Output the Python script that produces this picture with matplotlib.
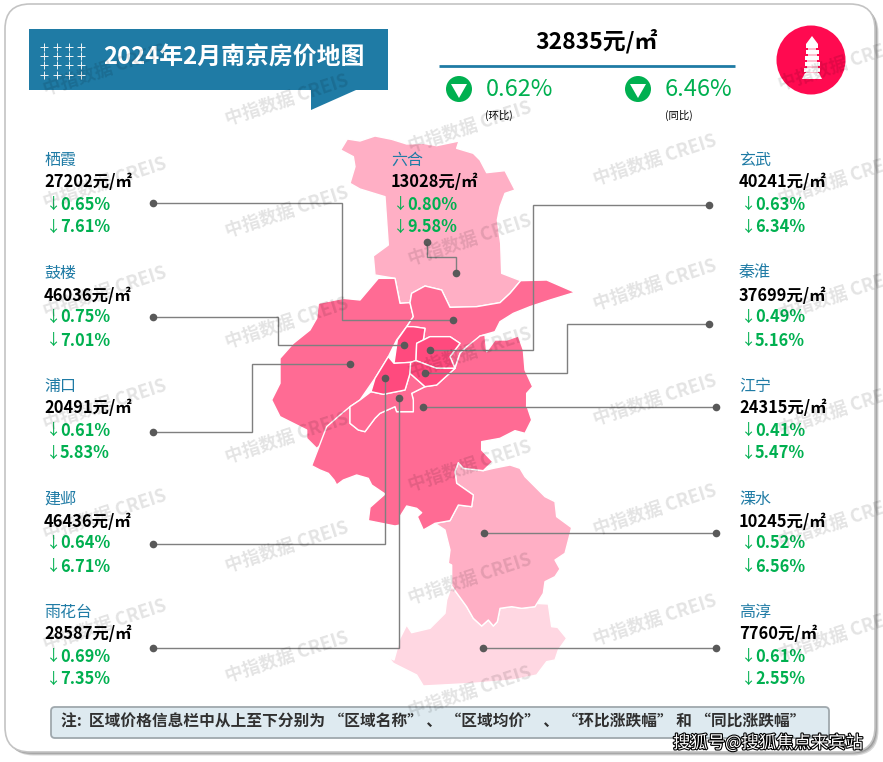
import matplotlib
matplotlib.use("Agg")
import matplotlib.pyplot as plt
from matplotlib.patches import Polygon, Circle, Rectangle, FancyBboxPatch
import matplotlib.patheffects as pe

plt.rcParams['font.family'] = ['Noto Sans CJK SC', 'DejaVu Sans']

W, H = 883, 762
BLUE = '#1F7BA5'; GREEN = '#00B050'
MID = '#FF6B94'; DARK = '#FF4A7E'; LIGHT = '#FFAFC5'; PALE = '#FFD7E2'

# ---- data ----
title = '2024年2月南京房价地图'
city_price = '32835元/㎡'
city_mom = '0.62%'
city_yoy = '6.46%'
note = '注:  区域价格信息栏中从上至下分别为 “区域名称” 、 “区域均价” 、 “环比涨跌幅” 和 “同比涨跌幅”'
credit = '搜狐号@搜狐焦点来宾站'

left_names = ['栖霞', '鼓楼', '浦口', '建邺', '雨花台']
left_prices = [27202, 46036, 20491, 46436, 28587]
left_mom = [0.65, 0.75, 0.61, 0.64, 0.69]
left_yoy = [7.61, 7.01, 5.83, 6.71, 7.35]

right_names = ['玄武', '秦淮', '江宁', '溧水', '高淳']
right_prices = [40241, 37699, 24315, 10245, 7760]
right_mom = [0.63, 0.49, 0.41, 0.52, 0.61]
right_yoy = [6.34, 5.16, 5.47, 6.56, 2.55]

lh_name, lh_price, lh_mom, lh_yoy = '六合', 13028, 0.80, 9.58

# ---- district outlines (px / 3 offsets) ----
def A(pts):  # upper map trace
    return [(260 + x / 3, 130 + y / 3) for x, y in pts]
def B(pts):  # lower map trace
    return [(260 + x / 3, 400 + y / 3) for x, y in pts]

liuhe = A([(242,60),(262,27),(300,33),(345,18),(395,28),(440,42),(490,40),(530,47),(597,33),(590,55),(640,70),
           (660,90),(680,128),(735,122),(765,180),(735,190),(720,230),(712,270),(722,340),(725,430),(782,452),
           (750,490),(720,518),(650,530),(570,532),(545,480),(495,468),(455,490),(450,518),(420,520),(405,445),
           (345,435),(340,378),(385,345),(375,200),(300,177),(270,160),(285,110),(280,80)])
pukou = A([(355,445),(405,445),(420,520),(450,518),(460,560),(440,590),(410,630),(385,680),(345,745),(300,810),
           (270,830),(240,890),(200,930),(170,955),(140,925),(140,900),(60,860),(35,810),(60,760),(60,685),
           (100,640),(150,600),(170,565),(175,520),(250,505),(300,510)])
qixia = A([(450,518),(455,490),(495,468),(545,480),(570,532),(650,530),(720,518),(750,490),(782,452),(860,450),
           (945,487),(870,510),(810,530),(760,550),(720,575),(705,605),(660,618),(640,640),(620,650),(600,670),
           (585,715),(570,680),(600,640),(570,620),(510,620),(470,640),(490,630),(495,595),(460,590),(440,590),(460,560)])
jiangning = A([(705,630),(740,630),(775,618),(790,660),(795,720),(818,770),(800,790),(800,830)]) + \
    B([(800,15),(815,60),(795,100),(765,92),(720,115),(665,125),(665,150),(698,185),(670,212),(610,205),(595,188),
       (585,215),(590,250),(640,285),(635,320),(595,315),(570,362),(525,370),(490,390),(472,350),(485,338),(470,325),
       (440,318),(420,350),(420,375),(405,378),(355,368),(325,362),(330,322),(375,282),(335,255),(325,235),(290,225),
       (250,240),(230,255),(222,240),(205,220),(180,210),(155,197),(200,80),(240,45),(270,20),(270,70),(295,90),
       (315,95),(345,55),(360,40),(405,20),(410,35),(460,35),(460,0)]) + \
    A([(455,790),(495,770),(530,765),(585,715),(600,670),(620,650),(660,618),(675,615),(680,665)])
yuhuatai = A([(333,785),(370,793),(435,780),(450,730),(495,770),(455,790)]) + \
    B([(460,0),(460,35),(410,35),(405,20),(360,40),(345,55),(315,95),(295,90),(270,70),(270,20)]) + A([(300,810)])
gulou = A([(440,590),(460,590),(495,595),(490,630),(470,640),(468,692),(452,697),(402,700),(412,630)])
jianye = A([(402,700),(452,697),(450,730),(435,780),(370,793),(333,785),(345,745),(385,680)])
xuanwu = A([(470,640),(510,620),(570,620),(600,640),(570,680),(585,715),(530,715),(468,692)])
qinhuai = A([(452,697),(468,692),(530,715),(585,715),(530,765),(495,770),(450,730)])
lishui = B([(525,370),(570,362),(595,315),(635,320),(640,285),(590,250),(585,215),(595,188),(610,205),(670,212),
            (700,205),(750,195),(780,205),(795,230),(825,260),(855,290),(885,305),(890,350),(935,383),(915,460),
            (885,480),(900,507),(885,530),(855,545),(850,580),(825,620),(785,625),(755,620),(720,625),(712,665),
            (700,678),(685,660),(665,678),(640,655),(620,620),(575,558),(575,495),(565,490),(570,450),(560,410),(555,390)])
gaochun = B([(575,558),(620,620),(640,655),(665,678),(685,660),(700,678),(712,665),(720,625),(755,620),(785,625),
             (825,620),(825,610),(865,612),(875,680),(893,682),(920,715),(895,750),(885,780),(860,785),(830,825),
             (760,840),(640,850),(490,858),(470,825),(400,790),(385,772),(402,780),(420,715),(440,675),(455,698),
             (510,685),(555,640),(560,600)])

regions = [(gaochun, PALE), (lishui, LIGHT), (liuhe, LIGHT), (pukou, MID), (qixia, MID), (jiangning, MID),
           (yuhuatai, MID), (gulou, DARK), (jianye, DARK), (xuanwu, DARK), (qinhuai, DARK)]

# leader routes: first point is the label end, last point the district end
leaders = {
    '栖霞': [(153,203),(342,203),(342,320),(453,320)],
    '鼓楼': [(153,317),(278,317),(278,345),(404,345)],
    '浦口': [(153,432),(252,432),(252,364),(350,364)],
    '建邺': [(153,544),(385,544),(385,378)],
    '雨花台': [(153,648),(399,648),(399,398)],
    '玄武': [(709,205),(533,205),(533,350),(430,350)],
    '秦淮': [(709,324),(567,324),(567,373),(425,373)],
    '江宁': [(716,407),(423,407)],
    '溧水': [(716,533),(484,533)],
    '高淳': [(716,648),(483,648)],
    '六合': [(427,242),(427,257),(456,257),(456,273)],
}

fig = plt.figure(figsize=(W / 100, H / 100), dpi=100, facecolor='white')
ax = fig.add_axes([0, 0, 1, 1])
ax.set_xlim(0, W); ax.set_ylim(H, 0); ax.axis('off')

# frame with soft shadow
for off, c in [(3.5, '#D8D8D8'), (2.5, '#B8B8B8'), (1.5, '#9A9A9A')]:
    ax.add_patch(FancyBboxPatch((5 + 25 + off, 4 + 25 + off), 870 - 50, 748 - 50,
                                boxstyle='round,pad=25,rounding_size=25', fc=c, ec='none', zorder=0))
ax.add_patch(FancyBboxPatch((5 + 25, 4 + 25), 870 - 50, 748 - 50, boxstyle='round,pad=25,rounding_size=25',
                            fc='white', ec='#C4C4C4', lw=1.2, zorder=0.5))

# banner
ax.add_patch(Rectangle((29, 29), 359, 61, fc=BLUE, ec='none', zorder=1))
ax.add_patch(Polygon([(311, 90), (356, 90), (311, 110)], fc=BLUE, ec='none', zorder=1))
for px in (44, 57, 69, 81):
    for py in (47, 56, 65, 75):
        ax.plot([px], [py], marker='+', ms=5.5, mew=0.7, color='#F0F4F6', zorder=2)
ax.text(234, 58, title, color='white', fontsize=17.2, fontweight='bold', ha='center', va='center', zorder=3)

# city summary
ax.text(597, 41, city_price, color='black', fontsize=16.5, fontweight='bold', ha='center', va='center', zorder=3)
ax.plot([439, 735], [66, 66], color=BLUE, lw=2, zorder=2, solid_capstyle='butt')
for cx, tx, sx, val, sub in [(459, 486, 499, city_mom, '(环比)'), (638, 665, 679, city_yoy, '(同比)')]:
    ax.add_patch(Circle((cx, 89), 13, fc=GREEN, ec='none', zorder=2))
    ax.add_patch(Polygon([(cx - 8, 84), (cx + 8, 84), (cx, 98)], fc='white', ec='none', zorder=3))
    ax.text(tx, 89, val, color=GREEN, fontsize=17, fontweight='medium', ha='left', va='center', zorder=3)
    ax.text(sx, 115, sub, color='black', fontsize=7.5, ha='center', va='center', zorder=3)

# pagoda badge
ax.add_patch(Circle((811, 60), 34.5, fc='#FF0A50', ec='none', zorder=2))
ax.add_patch(Polygon([(812, 36), (806, 44), (818, 44)], fc='white', ec='none', zorder=3))
for top, hw in zip((44, 50, 56, 62, 68), (6, 6.5, 7, 7.5, 8)):
    ax.add_patch(Rectangle((812 - hw, top), 2 * hw, 3.6, fc='white', ec='none', zorder=3))
    ax.add_patch(Rectangle((812 - hw + 2, top + 3.6), 2 * hw - 4, 2.4, fc='#FFC0D0', ec='none', zorder=3))
ax.add_patch(Polygon([(802, 79), (822, 79), (819, 73), (805, 73)], fc='white', ec='none', zorder=3))

# map
for pts, col in regions:
    ax.add_patch(Polygon(pts, closed=True, fc=col, ec='white', lw=1.0, joinstyle='round', zorder=4))

# leaders and dots
for name, route in leaders.items():
    xs, ys = zip(*route)
    ax.plot(xs, ys, color='#7F7F7F', lw=1.0, zorder=5, solid_joinstyle='miter')
    ax.plot([xs[0], xs[-1]], [ys[0], ys[-1]], ls='none', marker='o', ms=5.5, color='#595959', mec='none', zorder=6)

# labels
def label(x, y, name, price, mom, yoy):
    ax.text(x, y, name, color=BLUE, fontsize=11.5, ha='left', va='center', zorder=7)
    ax.text(x, y + 22.5, f'{price}元/㎡', color='black', fontsize=11.8, fontweight='bold', ha='left', va='center', zorder=7)
    for off, val in ((44.5, mom), (67.5, yoy)):
        ax.text(x + 2, y + off, '↓', color=GREEN, fontsize=11, ha='left', va='center', zorder=7)
        ax.text(x + 16, y + off, f'{val:.2f}%', color=GREEN, fontsize=11.8, fontweight='bold', ha='left', va='center', zorder=7)

row_ys = (160, 273, 386, 499, 612)
for y, *r in zip(row_ys, left_names, left_prices, left_mom, left_yoy):
    label(44, y, *r)
for y, *r in zip(row_ys, right_names, right_prices, right_mom, right_yoy):
    label(739, y, *r)
label(391, 160, lh_name, lh_price, lh_mom, lh_yoy)

# note box
ax.add_patch(FancyBboxPatch((54, 710), 772, 25, boxstyle='round,pad=3,rounding_size=4',
                            fc='#DEEAF0', ec='#9FA8AD', lw=1.3, zorder=7))
ax.text(61, 722, note, color='#303030', fontsize=11.3, fontweight='bold', ha='left', va='center', zorder=8)

# watermark grid
wm_cols = [(105, (70, 183, 292, 405, 515, 625)),
           (287, (100, 212, 323, 438, 547, 657)),
           (470, (127, 240, 353, 466, 579, 692)),
           (655, (160, 285, 400, 510, 620)),
           (840, (65, 180, 295, 410, 522, 635))]
for wx, rows in wm_cols:
    for wy in rows:
        ax.text(wx, wy, '中指数据 CREIS', color='#000000', alpha=0.11, fontsize=13, fontweight='bold', rotation=18,
                ha='center', va='center', rotation_mode='anchor', zorder=9)

# credit
ax.text(673, 743, credit, color='white', fontsize=12.5, ha='left', va='center', zorder=10,
        path_effects=[pe.withStroke(linewidth=1.6, foreground='black')])

fig.savefig('out.png', dpi=100, facecolor='white')
